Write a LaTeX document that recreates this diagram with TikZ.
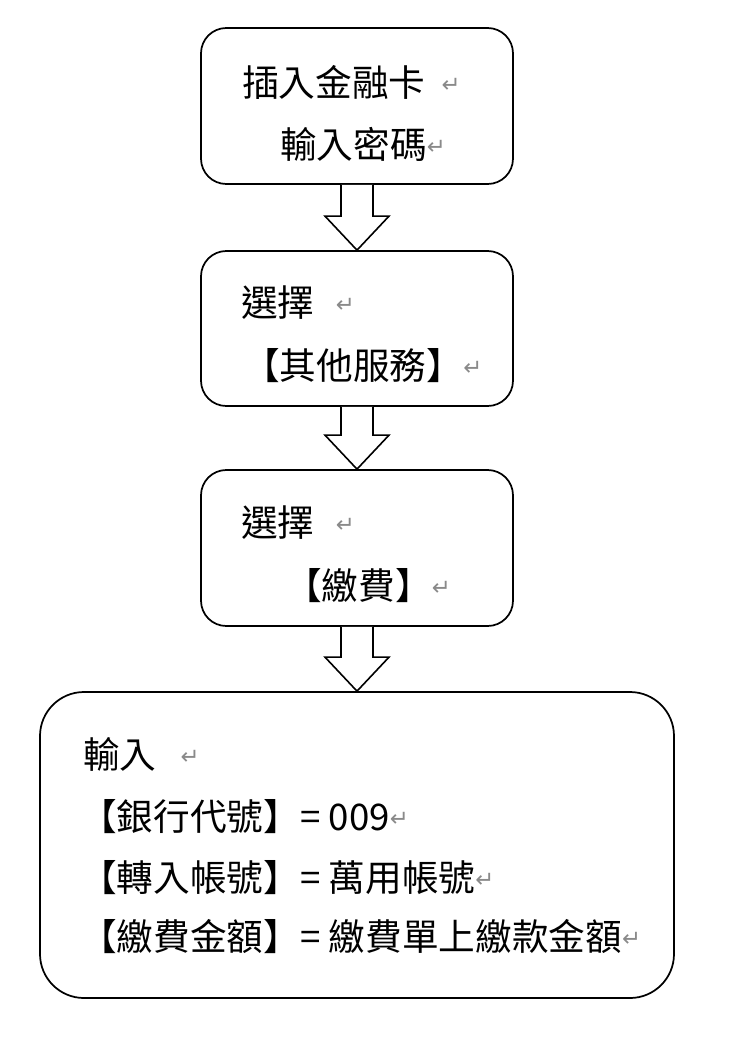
\documentclass[tikz,border=0pt]{standalone}
\usepackage{fontspec}
\usetikzlibrary{calc}
\newfontfamily\cjk{Noto Sans CJK TC}
\newfontfamily\dejavu{DejaVu Sans}
\newcommand{\ret}{\raisebox{3pt}{\color[HTML]{8A8A8A}\dejavu\fontsize{17pt}{17pt}\selectfont ↵}}
\begin{document}
\begin{tikzpicture}[x=0.75pt,y=-0.75pt,
  box/.style={draw=black, line width=1.3pt, fill=white, rounded corners=19pt, inner sep=0pt},
  bigbox/.style={box, rounded corners=33pt},
  txt/.style={anchor=base west, inner sep=0pt, font=\cjk\fontsize{27.5pt}{30pt}\selectfont},
  blockarrow/.style={draw=black, line width=1.2pt, fill=white, line join=miter}]
\useasboundingbox (0,0) rectangle (746,1040);
\fill[white] (0,0) rectangle (746,1040);
\node[box, minimum width=234pt, minimum height=117pt] (b1) at (357,106) {};
\node[box, minimum width=234pt, minimum height=116.25pt] (b2) at (357,328.5) {};
\node[box, minimum width=234pt, minimum height=117pt] (b3) at (357,548) {};
\node[bigbox, minimum width=475.5pt, minimum height=229.5pt] (b4) at (357,845) {};
% block arrows
\foreach \a/\b in {b1/b2,b2/b3,b3/b4}{
  \draw[blockarrow] ($(\a.south)+(-16,0)$) -- ($(\b.north)+(-16,-34)$) -- ($(\b.north)+(-32,-34)$) -- (\b.north) -- ($(\b.north)+(32,-34)$) -- ($(\b.north)+(16,-34)$) -- ($(\a.south)+(16,0)$);
}
% texts
\node[txt] (t11) at (242,96) {插入金融卡\hspace{12pt}\ret};
\node[txt] (t12) at (280,158) {輸入密碼\ret};
\node[txt] (t21) at (241,316) {選擇\hspace{16pt}\ret};
\node[txt] (t22) at (243,379) {【其他服務】\ret};
\node[txt] (t31) at (241,536) {選擇\hspace{16pt}\ret};
\node[txt] (t32) at (285,599) {【繳費】\ret};
\node[txt] (t41) at (83,768) {輸入\hspace{18pt}\ret};
\node[txt] (t42) at (80,830) {【銀行代號】= 009\ret};
\node[txt] (t43) at (80,891) {【轉入帳號】= 萬用帳號\ret};
\node[txt] (t44) at (80,950) {【繳費金額】= 繳費單上繳款金額\ret};
\end{tikzpicture}
\end{document}
